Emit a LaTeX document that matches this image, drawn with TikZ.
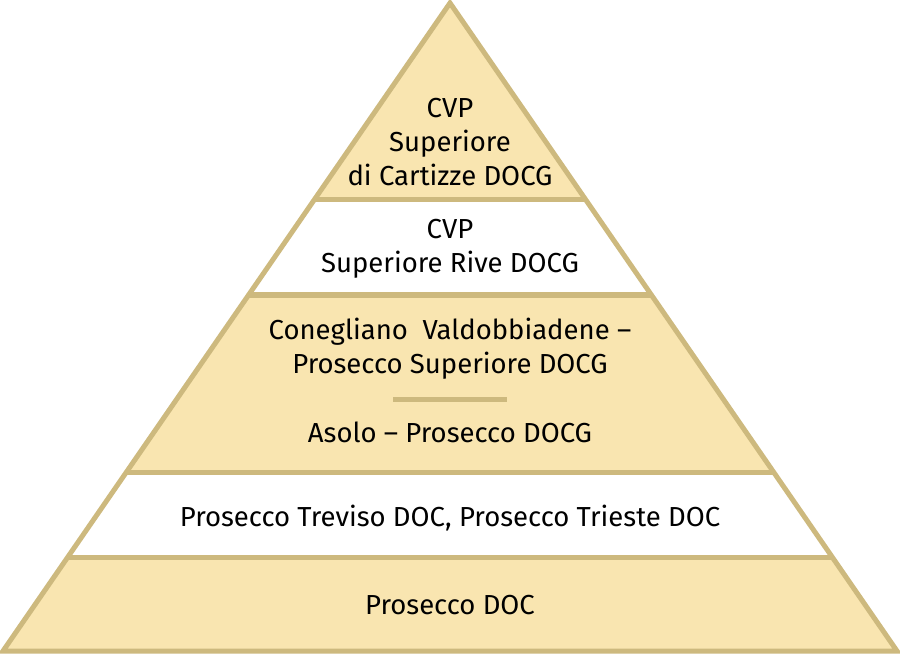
\documentclass[tikz,border=0pt]{standalone}
\usepackage{fontspec}
\setmainfont{Fira Sans}
\definecolor{edge}{HTML}{CDB97E}
\definecolor{band}{HTML}{F9E5B0}
\begin{document}
\begin{tikzpicture}[x=1pt,y=-1pt,
  lbl/.style={align=center,font=\fontsize{27.5}{34}\selectfont,text=black,inner sep=0pt},
  outline/.style={draw=edge,line width=5pt}]
\useasboundingbox (0,0) rectangle (900,655);
\coordinate (A) at (450,3);
\coordinate (BL) at (3,651);
\coordinate (BR) at (897,651);
% filled bands
\fill[band] (A) -- (450-0.6898*197,200) -- (450+0.6898*197,200) -- cycle;
\fill[band] (450-0.6898*292,295) -- (450+0.6898*292,295) -- (450+0.6898*469,472) -- (450-0.6898*469,472) -- cycle;
\fill[band] (450-0.6898*554,557) -- (450+0.6898*554,557) -- (BR) -- (BL) -- cycle;
% separators
\foreach \yy in {200,295,472,557}
  \draw[outline] (450-0.6898*\yy+0.6898*3,\yy) -- (450+0.6898*\yy-0.6898*3,\yy);
\draw[outline] (393,399) -- (507,399);
\draw[outline,line join=miter] (A) -- (BR) -- (BL) -- cycle;
% texts
\node[lbl] (t1) at (450,142) {CVP\\Superiore\\di Cartizze DOCG};
\node[lbl] (t2) at (450,249) {CVP\\Superiore Rive DOCG};
\node[lbl] (t3) at (450,349) {Conegliano\ \ Valdobbiadene –\\Prosecco Superiore DOCG};
\node[lbl] (t4) at (450,432) {Asolo – Prosecco DOCG};
\node[lbl] (t5) at (450,518) {Prosecco Treviso DOC, Prosecco Trieste DOC};
\node[lbl] (t6) at (450,605) {Prosecco DOC};
\end{tikzpicture}
\end{document}
